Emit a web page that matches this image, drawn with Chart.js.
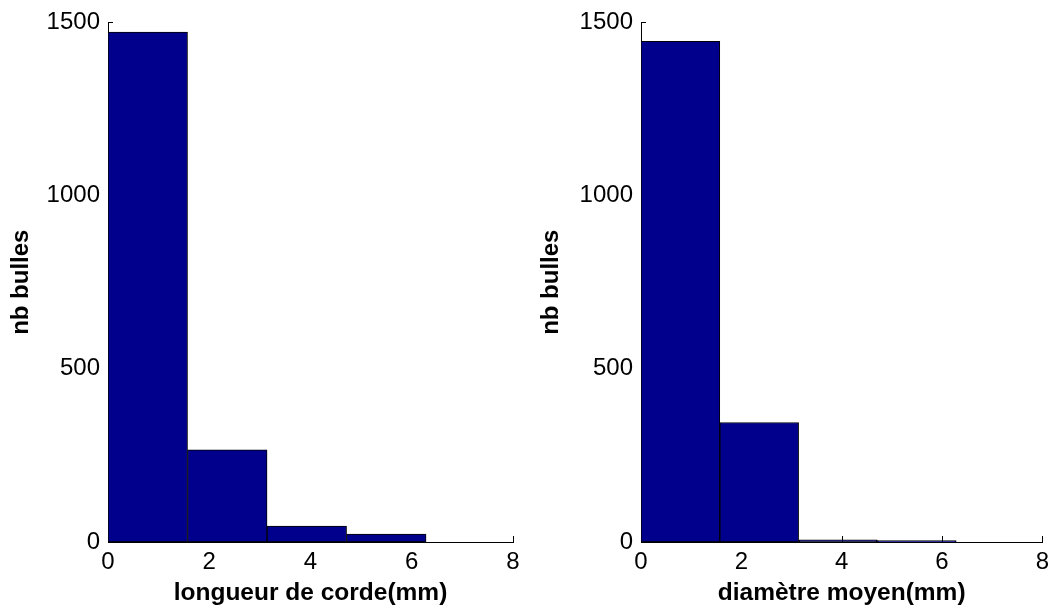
<!DOCTYPE html>
<html>
<head>
<meta charset="utf-8">
<script src="https://cdn.jsdelivr.net/npm/chart.js@4.4.0/dist/chart.umd.min.js"></script>
<style>
  html, body { margin: 0; padding: 0; background: #fff; }
  #wrap { position: relative; width: 1055px; height: 608px; }
  canvas { position: absolute; top: 0; }
</style>
</head>
<body>
<div id="wrap">
  <canvas id="left" width="530" height="608" style="left:0"></canvas>
  <canvas id="right" width="525" height="608" style="left:530px"></canvas>
</div>
<script>
// histogram bins (mm) shared by both plots
const binEdges = [0, 1.571, 3.142, 4.712, 6.283];
const cordeCounts = [1472, 266, 46, 23];
const diametreCounts = [1445, 345, 6, 4];
const xTicks = [0, 2, 4, 6, 8];
const yTicks = [0, 500, 1000, 1500];

const FONT = '"Liberation Sans", Arial, Helvetica, sans-serif';
const BAR_COLOR = '#00008c';

// MATLAB style ticks pointing into the plot
const inwardTicks = {
  id: 'inwardTicks',
  beforeDatasetsDraw(chart) {
    const { ctx, chartArea, scales: { x, y } } = chart;
    ctx.save();
    ctx.strokeStyle = '#000';
    ctx.lineWidth = 1;
    ctx.beginPath();
    y.ticks.forEach(t => {
      const py = Math.round(y.getPixelForValue(t.value)) + 0.5;
      ctx.moveTo(chartArea.left, py);
      ctx.lineTo(chartArea.left + 5, py);
    });
    x.ticks.forEach(t => {
      const px = Math.round(x.getPixelForValue(t.value)) + 0.5;
      ctx.moveTo(px, chartArea.bottom);
      ctx.lineTo(px, chartArea.bottom - 6);
    });
    ctx.stroke();
    ctx.restore();
  }
};

function makeHist(id, counts, xTitle, yWidth, rightPad) {
  const points = counts.map((c, i) => ({
    x: (binEdges[i] + binEdges[i + 1]) / 2,
    y: c
  }));
  const ctx = document.getElementById(id).getContext('2d');
  return new Chart(ctx, {
    type: 'bar',
    data: {
      datasets: [{
        data: points,
        backgroundColor: BAR_COLOR,
        borderColor: '#000',
        borderWidth: 1,
        borderSkipped: false,
        barPercentage: 1,
        categoryPercentage: 1
      }]
    },
    options: {
      responsive: false,
      animation: false,
      devicePixelRatio: 1,
      layout: { padding: { top: 21, right: rightPad, left: 0, bottom: 0 } },
      plugins: { legend: { display: false }, tooltip: { enabled: false } },
      scales: {
        x: {
          type: 'linear',
          min: 0,
          max: 8,
          offset: false,
          afterBuildTicks: s => { s.ticks = xTicks.map(v => ({ value: v })); },
          afterFit: s => { s.height = 66; },
          grid: { display: false, drawTicks: false },
          border: { display: true, color: '#000', width: 1 },
          ticks: {
            color: '#000', padding: 6, maxRotation: 0,
            font: { family: FONT, size: 24 },
            callback: v => String(v)
          },
          title: {
            display: true,
            text: xTitle,
            color: '#000',
            padding: { top: 0, bottom: 0 },
            font: { family: FONT, size: 24.5, weight: 'bold' }
          }
        },
        y: {
          min: 0,
          max: 1500,
          afterBuildTicks: s => { s.ticks = yTicks.map(v => ({ value: v })); },
          afterFit: s => { s.width = yWidth; },
          grid: { display: false, drawTicks: false },
          border: { display: true, color: '#000', width: 1 },
          ticks: {
            color: '#000', padding: 8,
            font: { family: FONT, size: 24 },
            callback: v => String(v)
          },
          title: {
            display: true,
            text: 'nb bulles',
            color: '#000',
            padding: { top: 7, bottom: 0 },
            font: { family: FONT, size: 24, weight: 'bold' }
          }
        }
      }
    },
    plugins: [inwardTicks]
  });
}

makeHist('left', cordeCounts, 'longueur de corde(mm)', 108, 17);
makeHist('right', diametreCounts, 'diamètre moyen(mm)', 111, 10);
</script>
</body>
</html>
